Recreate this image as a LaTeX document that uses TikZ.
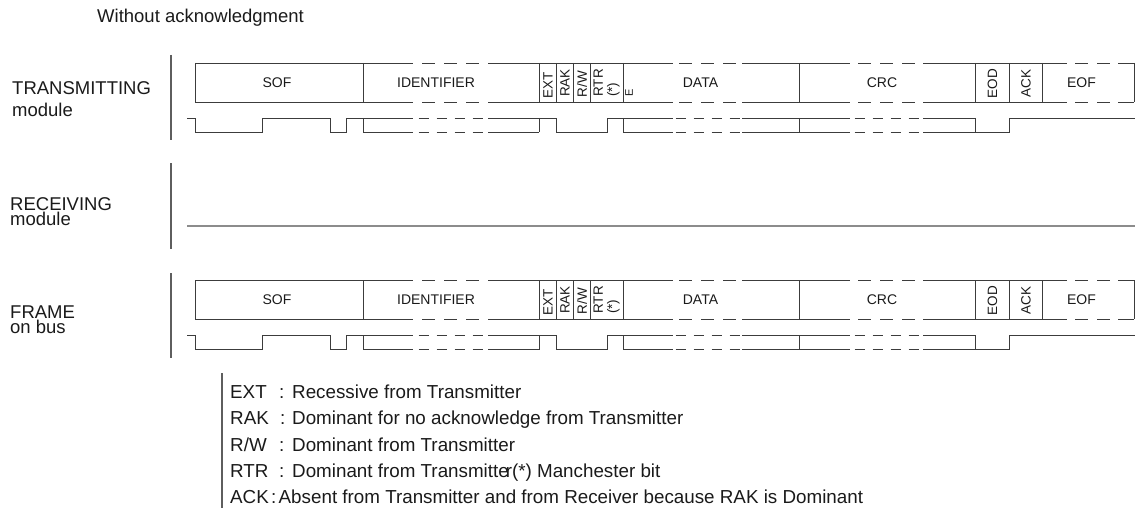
\documentclass[tikz,border=0pt]{standalone}
\usepackage{fontspec}
\setmainfont{Liberation Sans}
\definecolor{lncol}{HTML}{3C3C3C}
\definecolor{barcol}{HTML}{5E5E5E}
\definecolor{rcvcol}{HTML}{8C8C8C}
\definecolor{txtcol}{HTML}{1A1A1A}
\tikzset{
  ln/.style={draw=lncol, line width=0.9pt},
  dsh/.style={ln, dash pattern=on 13pt off 9pt},
  wdsh/.style={ln, dash pattern=on 10pt off 8pt},
  bar/.style={draw=barcol, line width=1.2pt},
  fld/.style={font=\fontsize{14}{16}\selectfont, inner sep=0, text=txtcol},
  bitlbl/.style={font=\fontsize{13.5}{14}\selectfont, inner sep=0, rotate=90, text=txtcol},
  head/.style={font=\fontsize{18.5}{20}\selectfont, inner sep=0, anchor=base west, text=txtcol},
  leg/.style={font=\fontsize{18.8}{20}\selectfont, inner sep=0, anchor=base west, text=txtcol},
}
\newcommand\framerow[2]{%
\begin{scope}[shift={(0,#1)}]
  % box top and bottom
  \foreach \yy in {0,39}{
    \draw[ln] (195,\yy) -- (413,\yy);
    \draw[dsh] (422,\yy) -- (479,\yy);
    \draw[ln] (488,\yy) -- (673,\yy);
    \draw[dsh] (679,\yy) -- (736,\yy);
    \draw[ln] (742,\yy) -- (850,\yy);
    \draw[dsh] (858,\yy) -- (915,\yy);
    \draw[ln] (923,\yy) -- (1067,\yy);
    \draw[dsh] (1075,\yy) -- (1110,\yy);
    \draw[ln] (1118,\yy) -- (1134,\yy);
  }
  \foreach \xx in {195,363,539,556,573,590,623,799,975,1009,1042,1134}
    \draw[ln] (\xx,0) -- (\xx,39);
  % field labels
  \node[fld] (#2sof) at (277,19.5) {SOF};
  \node[fld] (#2id) at (436,19.5) {IDENTIFIER};
  \node[fld] (#2data) at (700.5,19.5) {DATA};
  \node[fld] (#2crc) at (882,19.5) {CRC};
  \node[fld] (#2eof) at (1081.5,19.5) {EOF};
  \node[bitlbl] (#2ext) at (548,22) {EXT};
  \node[bitlbl] (#2rak) at (565,20) {RAK};
  \node[bitlbl] (#2rw) at (582,21) {R/W};
  \node[bitlbl, align=left] (#2rtr) at (606.5,20) {RTR\\(*)};
  \node[bitlbl] (#2eod) at (992.5,20.5) {EOD};
  \node[bitlbl] (#2ack) at (1026,20.5) {ACK};
  % waveform
  \draw[ln] (187,55) -- (195,55) -- (195,69.5) -- (262,69.5) -- (262,55) -- (330,55)
            -- (330,69.5) -- (346,69.5) -- (346,55) -- (363,55);
  \foreach \yy in {55,69.5}{
    \draw[ln] (363,\yy) -- (413,\yy);
    \draw[wdsh] (418.5,\yy) -- (482.5,\yy);
    \draw[ln] (488,\yy) -- (539,\yy);
    \draw[ln] (623,\yy) -- (673,\yy);
    \draw[wdsh] (675.5,\yy) -- (739.5,\yy);
    \draw[ln] (742,\yy) -- (850,\yy);
    \draw[wdsh] (854.5,\yy) -- (918.5,\yy);
    \draw[ln] (923,\yy) -- (975,\yy);
  }
  \foreach \xx in {363,539,623,799,975}
    \draw[ln] (\xx,55) -- (\xx,69.5);
  \draw[ln] (539,55) -- (556,55) -- (556,69.5) -- (607,69.5) -- (607,55) -- (623,55);
  \draw[ln] (975,69.5) -- (1009,69.5) -- (1009,55) -- (1135,55);
\end{scope}}
\begin{document}
\begin{tikzpicture}[x=1pt, y=-1pt]
  \path[use as bounding box] (0,0) rectangle (1135,508);
  % headings
  \node[head] (title) at (97,23) {Without acknowledgment};
  \node[head] (tx1) at (12,95) {TRANSMITTING};
  \node[head] (tx2) at (12,117) {module};
  \node[head] (rx1) at (10,210) {RECEIVING};
  \node[head] (rx2) at (10,225.5) {module};
  \node[head] (fr1) at (10,318) {FRAME};
  \node[head] (fr2) at (10,333.5) {on bus};
  % separator bars
  \draw[bar] (171,55) -- (171,140);
  \draw[bar] (171,163) -- (171,249);
  \draw[bar] (171,273) -- (171,358);
  % rows
  \framerow{63}{t}
  \node[font=\fontsize{11}{11}\selectfont, inner sep=0, rotate=90, text=txtcol] (tE) at (629,93) {E};
  \draw[draw=rcvcol, line width=1.2pt] (187,226) -- (1135,226);
  \framerow{280}{f}
  % legend
  \draw[bar] (222,373) -- (222,508);
  \node[leg] (k1) at (230,398) {EXT};
  \node[leg] (c1) at (279,398) {:};
  \node[leg] (d1) at (292,398) {Recessive from Transmitter};
  \node[leg] (k2) at (230,424.5) {RAK};
  \node[leg] (c2) at (280,424.5) {:};
  \node[leg] (d2) at (292,424.5) {Dominant for no acknowledge from Transmitter};
  \node[leg] (k3) at (230,451) {R/W};
  \node[leg] (c3) at (279,451) {:};
  \node[leg] (d3) at (292,451) {Dominant from Transmitter};
  \node[leg] (k4) at (230,477.5) {RTR};
  \node[leg] (c4) at (279,477.5) {:};
  \node[leg] (d4) at (292,477.5) {Dominant from Transmitte\kern-3pt r(*) Manchester bit};
  \node[leg] (k5) at (230,503) {ACK};
  \node[leg] (c5) at (271,503) {:};
  \node[leg] (d5) at (278.5,503) {Absent from Transmitter and from Receiver because RAK is Dominant};
\end{tikzpicture}
\end{document}
